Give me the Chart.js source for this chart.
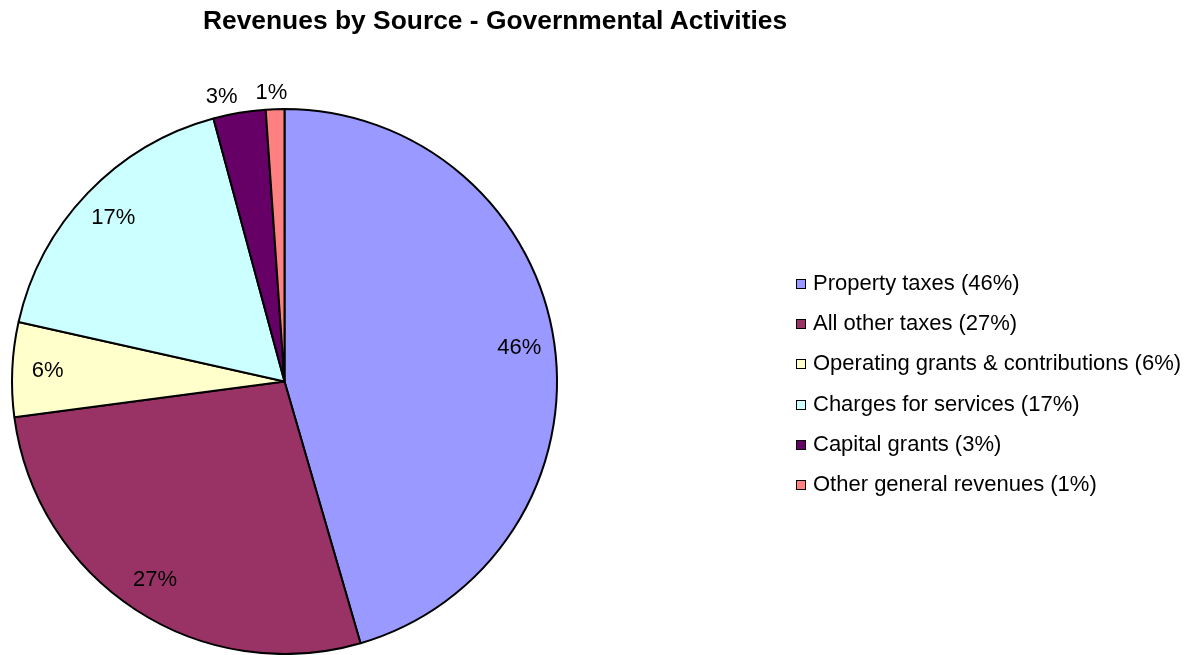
<!DOCTYPE html>
<html>
<head>
<meta charset="utf-8">
<script src="https://cdn.jsdelivr.net/npm/chart.js@4"></script>
<style>
    html, body { margin: 0; padding: 0; background: #fff; overflow: hidden; }
    #wrap { position: relative; width: 1195px; height: 655px; }
    #title {
        position: absolute; left: 0; top: 5px; width: 990px; text-align: center;
        font: bold 26.4px "Liberation Sans", Arial, sans-serif; color: #000;
    }
    #legend {
        position: absolute; left: 796px; top: 263px; margin: 0; padding: 0; list-style: none;
        font: 22px "Liberation Sans", Arial, sans-serif; color: #000;
    }
    #legend li { height: 40.2px; line-height: 40px; white-space: nowrap; }
    #legend span.box {
        display: inline-block; width: 8px; height: 8px; border: 1.8px solid #000;
        margin-right: 7px; vertical-align: 1px;
    }
</style>
</head>
<body>
<div id="wrap">
    <canvas id="pieChart" width="1195" height="655"></canvas>
    <div id="title">Revenues by Source - Governmental Activities</div>
    <ul id="legend"></ul>
</div>
<script>
// データ（扇形の角度から読んだ構成比 %）
const categories = [
    'Property taxes',
    'All other taxes',
    'Operating grants & contributions',
    'Charges for services',
    'Capital grants',
    'Other general revenues'
];
const shares = [45.5, 27.4, 5.6, 17.3, 3.1, 1.1];
const sliceColors = ['#9999ff', '#993366', '#ffffcc', '#ccffff', '#660066', '#ff8080'];

// 表示用のパーセント（整数に丸める）
function pctText(i) {
    return Math.round(shares[i]) + '%';
}

// 凡例をHTMLで作る
const legendEl = document.getElementById('legend');
categories.forEach(function(name, i) {
    const li = document.createElement('li');
    const box = document.createElement('span');
    box.className = 'box';
    box.style.background = sliceColors[i];
    li.appendChild(box);
    li.appendChild(document.createTextNode(name + ' (' + pctText(i) + ')'));
    legendEl.appendChild(li);
});

// パーセントのラベルを描くプラグイン
const percentLabels = {
    id: 'percentLabels',
    afterDatasetsDraw(chart) {
        const ctx = chart.ctx;
        const arcs = chart.getDatasetMeta(0).data;
        ctx.save();
        ctx.font = '22px "Liberation Sans", Arial, sans-serif';
        ctx.fillStyle = '#000';
        ctx.textAlign = 'center';
        ctx.textBaseline = 'middle';
        arcs.forEach(function(arc, i) {
            const p = arc.getProps(['x', 'y', 'startAngle', 'endAngle', 'outerRadius'], true);
            const mid = (p.startAngle + p.endAngle) / 2;
            const dx = Math.cos(mid);
            const dy = Math.sin(mid);
            if (shares[i] < 5) {
                // 小さい扇形は外側に表示（Excel風に横へずらす）
                const r = p.outerRadius + 16;
                ctx.fillText(pctText(i), p.x + dx * r + dx * 90, p.y + dy * r);
            } else {
                const r = p.outerRadius * 0.87;
                ctx.fillText(pctText(i), p.x + dx * r, p.y + dy * r);
            }
        });
        ctx.restore();
    }
};

const pieCtx = document.getElementById('pieChart').getContext('2d');
new Chart(pieCtx, {
    type: 'pie',
    data: {
        labels: categories,
        datasets: [{
            data: shares,
            backgroundColor: sliceColors,
            borderColor: '#000',
            borderWidth: 2
        }]
    },
    options: {
        responsive: false,
        animation: false,
        layout: {
            padding: { left: 10, top: 108, right: 636, bottom: -3 }
        },
        plugins: {
            legend: { display: false },
            title: { display: false },
            tooltip: { enabled: false }
        }
    },
    plugins: [percentLabels]
});
</script>
</body>
</html>
